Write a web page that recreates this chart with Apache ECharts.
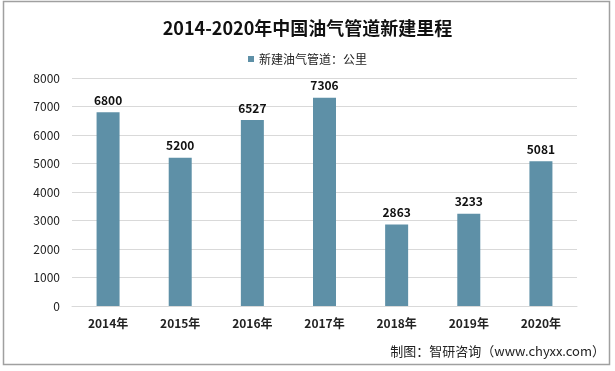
<!DOCTYPE html>
<html><head><meta charset="utf-8">
<script src="https://cdn.jsdelivr.net/npm/echarts@6/dist/echarts.min.js"></script>
<style>html,body{margin:0;padding:0;background:#fff}#c{width:615px;height:371px}</style>
</head><body><div id="c"></div>
<script>
const categories = ['2014年','2015年','2016年','2017年','2018年','2019年','2020年'];
const values = [6800, 5200, 6527, 7306, 2863, 3233, 5081];
const seriesName = '新建油气管道：公里';
const titleText = '2014-2020年中国油气管道新建里程';
const sourceText = '制图：智研咨询（www.chyxx.com）';

const chart = echarts.init(document.getElementById('c'), null, {renderer:'canvas'});
const font = '"Microsoft YaHei","Noto Sans CJK SC",sans-serif';
chart.setOption({
  backgroundColor:'#fff',
  animation:false,
  graphic:[{type:'rect',shape:{x:3.5,y:1.5,width:606,height:363},style:{fill:'none',stroke:'#a0a0a0',lineWidth:1.5}},
    {type:'text',right:10,top:345,style:{text:sourceText,font:'13px '+font,fill:'#222'}}],
  title:{text:titleText,left:'center',top:14,textStyle:{fontFamily:font,fontSize:18,fontWeight:'bold',color:'#111'}},
  legend:{top:48,left:'center',itemWidth:6,itemHeight:6,itemGap:4,icon:'rect',
    textStyle:{fontFamily:font,fontSize:12,color:'#222'},data:[seriesName]},
  grid:{left:72,right:38,top:78,bottom:65},
  xAxis:{type:'category',data:categories,axisTick:{show:false},
    axisLine:{lineStyle:{color:'#d9d9d9'}},
    axisLabel:{margin:11,fontFamily:font,fontSize:12,fontWeight:'bold',color:'#222'}},
  yAxis:{type:'value',min:0,max:8000,interval:1000,
    axisLine:{show:false},axisTick:{show:false},
    splitLine:{lineStyle:{color:'#d9d9d9'}},
    axisLabel:{margin:12,fontFamily:font,fontSize:12,color:'#222',formatter:v=>String(v)}},
  series:[{name:seriesName,type:'bar',data:values,barWidth:23,
    itemStyle:{color:'#5e90a7'},
    label:{show:true,position:'top',distance:6,fontFamily:font,fontSize:12,fontWeight:'bold',color:'#111'}}]
});
</script></body></html>
